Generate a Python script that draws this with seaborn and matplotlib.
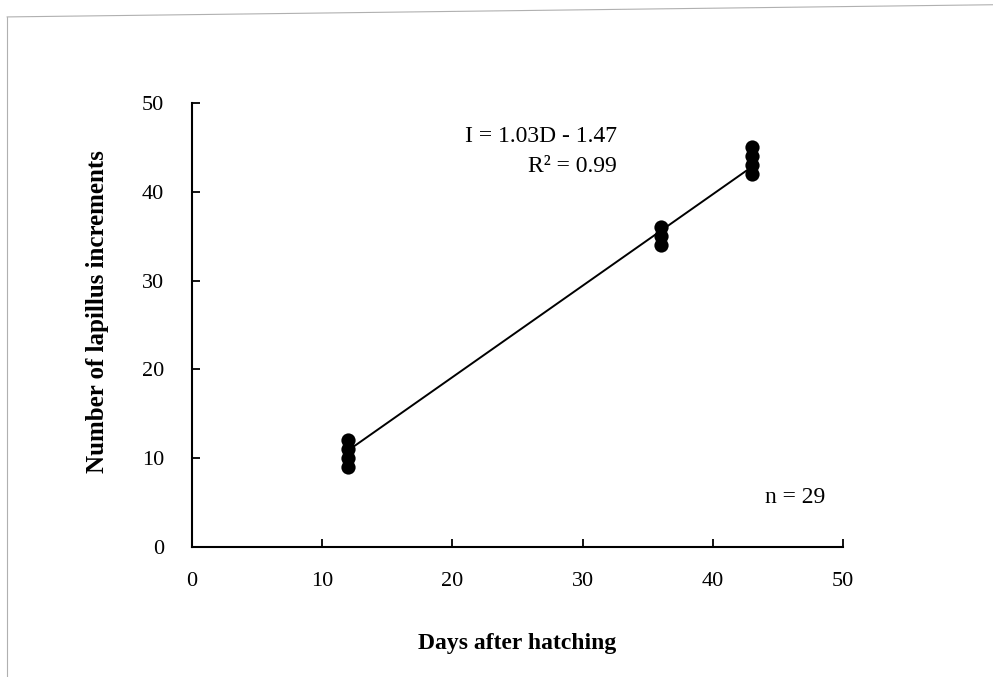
import numpy as np
import pandas as pd
import seaborn as sns
import matplotlib.pyplot as plt
from matplotlib.lines import Line2D

# observed (days after hatching, lapillus increments)
days = [12, 12, 12, 12, 36, 36, 36, 43, 43, 43, 43]
increments = [9, 10, 11, 12, 34, 35, 36, 42, 43, 44, 45]

# fitted relation I = slope * D + intercept
slope = 1.03
intercept = -1.47
r_squared = 0.99
n_fish = 29

x_ticks = [0, 10, 20, 30, 40, 50]
y_ticks = [0, 10, 20, 30, 40, 50]

df = pd.DataFrame({'days': days, 'increments': increments})

sns.set_style('ticks')
plt.rcParams['font.family'] = ['Liberation Serif', 'DejaVu Serif']
plt.rcParams['text.color'] = 'black'

fig = plt.figure(figsize=(9.93, 6.77), dpi=100)
ax = fig.add_axes([0.1934, 0.192, 0.6556, 0.6558])

sns.scatterplot(data=df, x='days', y='increments', ax=ax, color='black',
                s=105, edgecolor='black', linewidth=0, zorder=3)

line_x = np.array([min(days), max(days)])
ax.plot(line_x, slope * line_x + intercept, color='black', lw=1.4, zorder=2)

ax.set_xlim(0, 50)
ax.set_ylim(0, 50)
ax.set_xticks(x_ticks)
ax.set_yticks(y_ticks)
ax.tick_params(axis='both', direction='in', length=6, width=1.3, labelsize=16,
               colors='black')
ax.tick_params(axis='x', pad=18)
ax.tick_params(axis='y', pad=20)
for side in ['top', 'right']:
    ax.spines[side].set_visible(False)
for side in ['left', 'bottom']:
    ax.spines[side].set_linewidth(1.5)
    ax.spines[side].set_color('black')

ax.set_xlabel('Days after hatching', fontsize=17, fontweight='bold', labelpad=30,
              color='black')
ax.set_ylabel('Number of lapillus increments', fontsize=18, fontweight='bold',
              color='black')
ax.yaxis.set_label_coords(-0.128, 0.53)

ax.text(32.6, 46.2, f'I = {slope:.2f}D - {abs(intercept):.2f}', fontsize=17,
        ha='right', va='center')
ax.text(32.6, 42.8, f'R\u00b2 = {r_squared:.2f}', fontsize=17, ha='right', va='center')
ax.text(48.6, 5.6, f'n = {n_fish}', fontsize=17, ha='right', va='center')

# faint scan border
fig.add_artist(Line2D([0.007, 0.007], [0.0, 0.975], color='#b0b0b0', lw=0.8))
fig.add_artist(Line2D([0.007, 1.0], [0.975, 0.993], color='#b0b0b0', lw=0.8))

fig.savefig('out.png', dpi=100)
